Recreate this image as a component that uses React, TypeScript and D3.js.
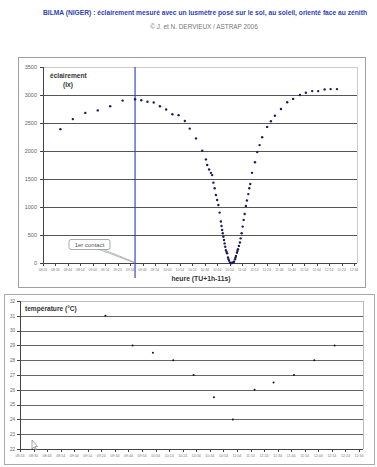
import React from "react";
import * as d3 from "d3";

// ---- data ----
const luxTimes = [518, 528, 538, 548, 558, 568, 578, 583, 588, 593, 598, 603, 608, 613, 618, 622, 627, 632, 635, 636, 637.5, 639, 640, 641, 642, 643, 644, 645, 646, 647, 647.5, 648, 648.5, 649, 649.5, 650, 650.5, 651, 651.5, 652, 652.7, 653.1, 653.5, 654.3, 655, 655.5, 655.9, 656.7, 657.1, 657.5, 658.3, 658.7, 659.1, 659.9, 660.3, 660.7, 661.5, 662.3, 662.9, 663.7, 664.5, 665.3, 666.1, 667.1, 667.9, 669, 669.8, 670.6, 672, 674.4, 676.2, 678.1, 680.2, 684.2, 687.2, 690.4, 695.3, 700.3, 705.1, 710.5, 715.3, 720.4, 725.2, 730.4, 735.2, 740.3];
const luxValues = [2390, 2570, 2680, 2725, 2800, 2900, 2925, 2905, 2880, 2865, 2800, 2740, 2655, 2640, 2535, 2400, 2225, 2005, 1850, 1750, 1670, 1610, 1570, 1435, 1335, 1215, 1125, 1035, 900, 740, 660, 590, 530, 470, 410, 350, 290, 230, 200, 175, 100, 70, 42, 5, 0, 0, 0, 5, 15, 25, 65, 95, 125, 185, 215, 245, 305, 365, 440, 530, 650, 770, 875, 1020, 1115, 1230, 1335, 1410, 1610, 1800, 1980, 2105, 2245, 2430, 2530, 2630, 2750, 2870, 2930, 3000, 3040, 3070, 3070, 3100, 3105, 3105];
const tempTimes = [567, 587, 602, 617, 632, 647, 661, 677, 691, 706, 721, 736];
const tempValues = [31, 29, 28.5, 28, 27, 25.5, 24, 26, 26.5, 27, 28, 29];
const firstContact = 578;
const luxTicks = [0, 500, 1000, 1500, 2000, 2500, 3000, 3500];
const tempTicks = [22, 23, 24, 25, 26, 27, 28, 29, 30, 31, 32];
const timeTicks = d3.range(504, 755, 10);
const title = "BILMA (NIGER) : éclairement mesuré avec un lusmètre posé sur le sol, au soleil, orienté face au zénith";
const credit = "© J. et N. DERVIEUX / ASTRAP 2006";

const fmt = (m: number) => {
  const h = Math.floor(m / 60);
  const mm = Math.round(m - h * 60);
  return `${String(h).padStart(2, "0")}:${String(mm).padStart(2, "0")}`;
};

export default function App() {
  const xT = d3.scaleLinear().domain([504, 754]).range([43, 354]);
  const yT = d3.scaleLinear().domain([0, 3500]).range([263, 67]);
  const xB = d3.scaleLinear().domain([504, 754]).range([20, 359]);
  const yB = d3.scaleLinear().domain([22, 32]).range([449, 301]);
  const font = "Arial, 'Liberation Sans', sans-serif";
  const dot = "#1c1c5e";

  return (
    <svg width={377} height={467} style={{ position: "absolute", left: 0, top: 0, background: "#fff" }} fontFamily={font}>
      <rect x={0} y={0} width={377} height={467} fill="#fff" />
      <text x={205} y={15} textAnchor="middle" fontSize={6.6} fontWeight="bold" fill="#2f3fb5" textLength={324} lengthAdjust="spacingAndGlyphs">{title}</text>
      <text x={204} y={29} textAnchor="middle" fontSize={6.4} fill="#777">{credit}</text>

      {/* top chart */}
      <rect x={18.5} y={57.5} width={347} height={230} fill="#fff" stroke="#a0a0a0" />
      <line x1={43} x2={357} y1={67.5} y2={67.5} stroke="#ccc" />
      <line x1={357.5} x2={357.5} y1={67} y2={263} stroke="#ccc" />
      {luxTicks.slice(1, -1).map(v => (
        <line key={v} x1={43} x2={357} y1={Math.round(yT(v)) + 0.5} y2={Math.round(yT(v)) + 0.5} stroke="#555" />
      ))}
      <line x1={43.5} x2={43.5} y1={67} y2={263} stroke="#444" />
      <line x1={43} x2={357} y1={263.5} y2={263.5} stroke="#444" />
      {luxTicks.map(v => (
        <g key={v}>
          <line x1={40} x2={43} y1={Math.round(yT(v)) + 0.5} y2={Math.round(yT(v)) + 0.5} stroke="#444" />
          <text x={37} y={yT(v) + 2} textAnchor="end" fontSize={5.5} fill="#666">{v}</text>
        </g>
      ))}
      {timeTicks.map(t => (
        <g key={t}>
          <line x1={Math.round(xT(t)) + 0.5} x2={Math.round(xT(t)) + 0.5} y1={263} y2={266} stroke="#444" />
          <text x={xT(t)} y={270.5} textAnchor="middle" fontSize={3.4} fill="#777">{fmt(t)}</text>
        </g>
      ))}
      <text x={50} y={78} fontSize={6.6} fontWeight="bold" fill="#333">éclairement</text>
      <text x={68} y={86.5} textAnchor="middle" fontSize={6.6} fontWeight="bold" fill="#333">(lx)</text>
      <text x={201} y={280.5} textAnchor="middle" fontSize={6.8} fontWeight="bold" fill="#333">heure (TU+1h-11s)</text>
      <line x1={xT(firstContact)} x2={xT(firstContact)} y1={67} y2={278} stroke="#3a48d0" strokeWidth={1.2} />
      <line x1={98} y1={249} x2={xT(firstContact)} y2={263} stroke="#888" strokeWidth={0.6} />
      <line x1={101} y1={248.5} x2={xT(firstContact)} y2={262.5} stroke="#888" strokeWidth={0.6} />
      <rect x={69} y={239.5} width={41} height={10} rx={2} fill="#fff" stroke="#888" strokeWidth={0.7} />
      <text x={89.5} y={247} textAnchor="middle" fontSize={6} fill="#555">1er contact</text>
      {luxTimes.map((t, i) => (
        <circle key={i} cx={xT(t)} cy={yT(luxValues[i])} r={1.2} fill={dot} />
      ))}

      {/* bottom chart */}
      <rect x={4.5} y={294.5} width={370} height={170} fill="none" stroke="#aaa" />
      <line x1={20} x2={363} y1={301.5} y2={301.5} stroke="#bbb" />
      <line x1={363.5} x2={363.5} y1={301} y2={449} stroke="#bbb" />
      {tempTicks.slice(1, -1).map(v => (
        <line key={v} x1={20} x2={363} y1={Math.round(yB(v)) + 0.5} y2={Math.round(yB(v)) + 0.5} stroke="#666" strokeWidth={1.2} />
      ))}
      <line x1={20.5} x2={20.5} y1={301} y2={449} stroke="#444" />
      <line x1={20} x2={363} y1={449.5} y2={449.5} stroke="#444" />
      {tempTicks.map(v => (
        <g key={v}>
          <line x1={17} x2={20} y1={Math.round(yB(v)) + 0.5} y2={Math.round(yB(v)) + 0.5} stroke="#444" />
          <text x={15} y={yB(v) + 1.7} textAnchor="end" fontSize={4.6} fill="#666">{v}</text>
        </g>
      ))}
      {timeTicks.map(t => (
        <g key={t}>
          <line x1={Math.round(xB(t)) + 0.5} x2={Math.round(xB(t)) + 0.5} y1={449} y2={452} stroke="#444" />
          <text x={xB(t)} y={456.5} textAnchor="middle" fontSize={3.6} fill="#777">{fmt(t)}</text>
        </g>
      ))}
      <text x={25} y={311} fontSize={6.6} fontWeight="bold" fill="#333">température (°C)</text>
      {tempTimes.map((t, i) => (
        <circle key={i} cx={xB(t)} cy={yB(tempValues[i])} r={1} fill="#111" />
      ))}
      <path d="M32,440 L32,449 L34,447 L35.5,450 L36.5,449.5 L35,446.5 L37.5,446.5 Z" fill="#fff" stroke="#666" strokeWidth={0.6} />
    </svg>
  );
}
